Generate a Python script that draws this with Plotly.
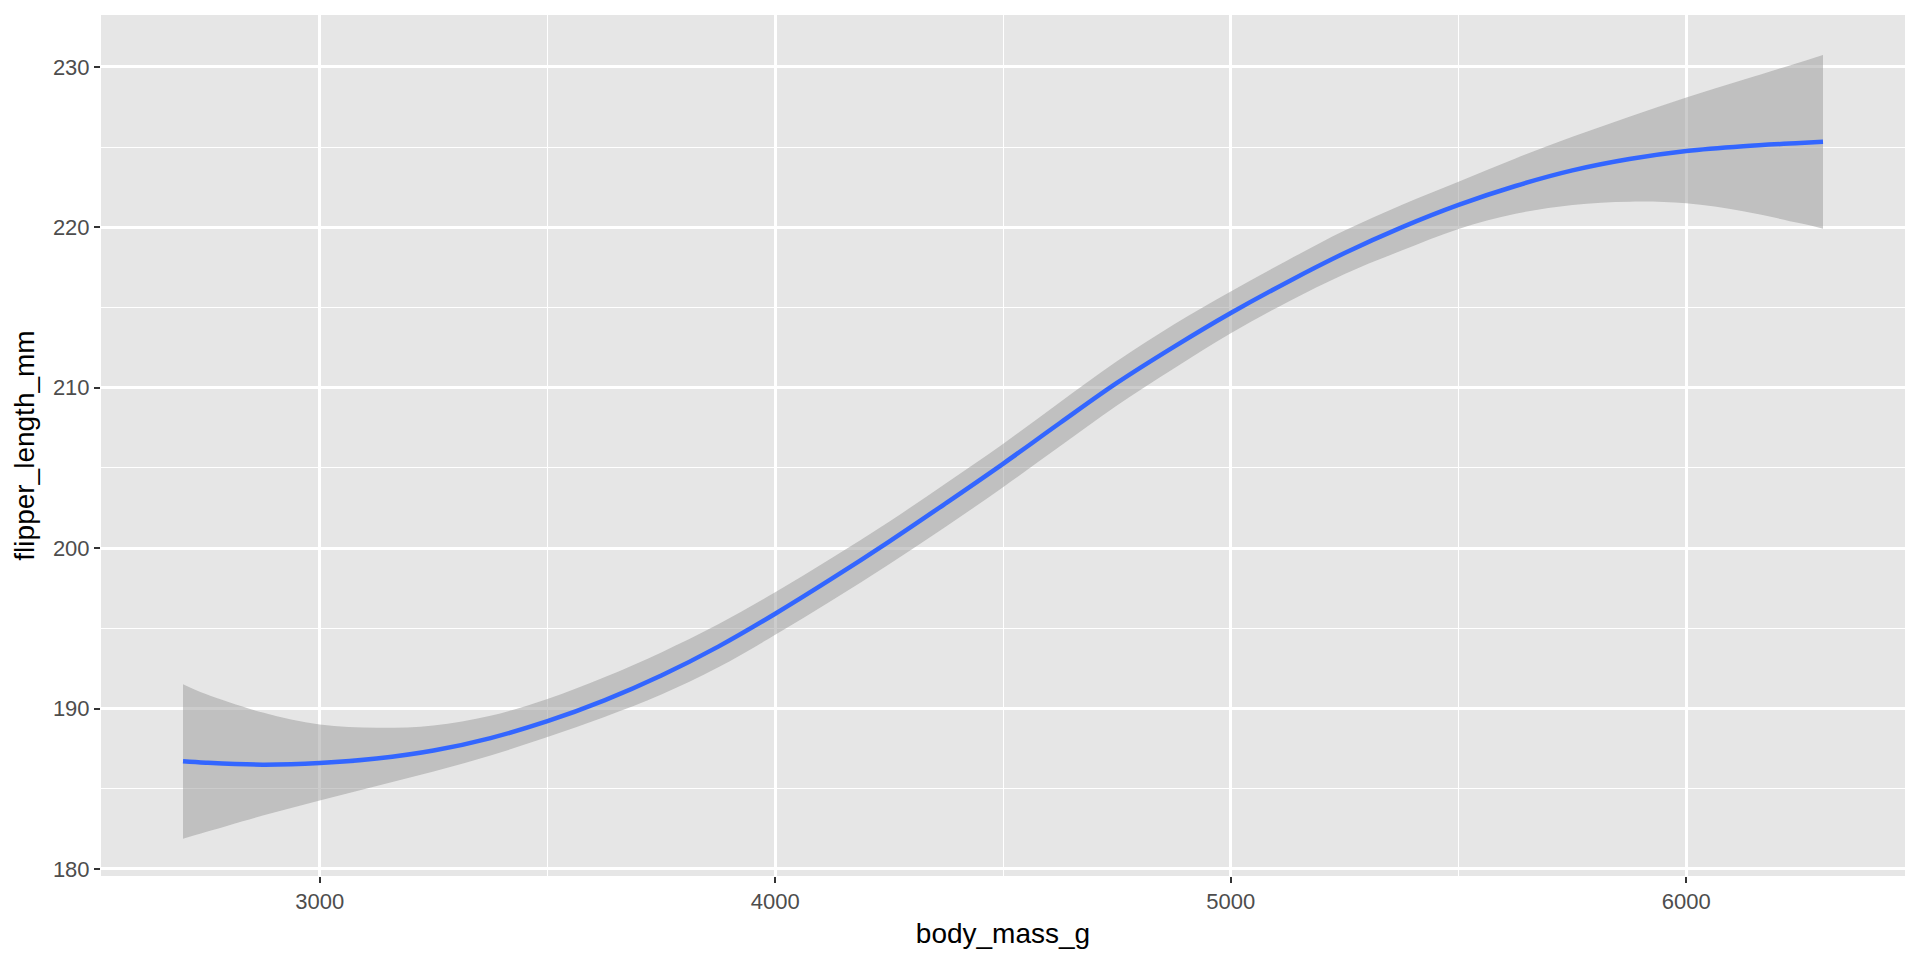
import plotly.graph_objects as go

BLUE = "#3366FF"
PANEL = "#E6E6E6"
BAND = "rgba(153,153,153,0.5)"
TICK_INK = "#4D4D4D"
FONT = "Liberation Sans, Arial, sans-serif"

# loess fit of flipper_length_mm on body_mass_g
body_mass_g = [2700, 2750, 2875, 3000, 3125, 3250, 3375, 3500, 3625, 3750, 3875,
               4000, 4125, 4250, 4375, 4500, 4625, 4750, 4875, 5000, 5125, 5250,
               5375, 5500, 5625, 5750, 5875, 6000, 6125, 6250, 6300]
fit = [186.71, 186.62, 186.5, 186.6, 186.88, 187.38, 188.16, 189.21, 190.51, 192.06, 193.86,
       195.91, 198.11, 200.41, 202.81, 205.26, 207.8, 210.3, 212.55, 214.66, 216.6, 218.4,
       220.0, 221.4, 222.58, 223.55, 224.26, 224.76, 225.06, 225.26, 225.33]
upper = [191.52, 190.9, 189.75, 189.0, 188.8, 188.95, 189.55, 190.6, 191.95, 193.5, 195.25,
         197.25, 199.4, 201.65, 204.05, 206.5, 209.1, 211.65, 213.95, 216.0, 217.95, 219.8,
         221.4, 222.85, 224.3, 225.65, 226.9, 228.1, 229.2, 230.3, 230.75]
lower = [181.88, 182.3, 183.33, 184.27, 185.17, 186.07, 187.07, 188.22, 189.47, 190.87, 192.57,
         194.6, 196.75, 199.0, 201.35, 203.8, 206.35, 208.9, 211.2, 213.4, 215.35, 217.1,
         218.55, 219.9, 220.85, 221.4, 221.6, 221.5, 221.0, 220.25, 219.92]

x_ticks = [3000, 4000, 5000, 6000]
y_ticks = [180, 190, 200, 210, 220, 230]

fig = go.Figure()
fig.add_trace(go.Scatter(x=body_mass_g, y=upper, mode="lines", line=dict(width=0, shape="spline"),
                         hoverinfo="skip", showlegend=False))
fig.add_trace(go.Scatter(x=body_mass_g, y=lower, mode="lines", line=dict(width=0, shape="spline"),
                         fill="tonexty", fillcolor=BAND, hoverinfo="skip", showlegend=False))
fig.add_trace(go.Scatter(x=body_mass_g, y=fit, mode="lines",
                         line=dict(color=BLUE, width=4.5, shape="spline"), showlegend=False))

axis_common = dict(
    showgrid=True, gridcolor="white", gridwidth=2.6, zeroline=False, showline=False,
    ticks="outside", ticklen=6, tickwidth=2, tickcolor="#333333",
    tickfont=dict(family=FONT, size=22, color=TICK_INK),
    title_font=dict(family=FONT, size=28, color="black"),
)
fig.update_xaxes(**axis_common, range=[2520, 6480], tickvals=x_ticks,
                 minor=dict(dtick=500, tick0=0, showgrid=True, gridcolor="white", gridwidth=1.3),
                 title_text="body_mass_g", title_standoff=9)
fig.update_yaxes(**axis_common, range=[179.56, 233.24], tickvals=y_ticks,
                 minor=dict(dtick=5, tick0=0, showgrid=True, gridcolor="white", gridwidth=1.3),
                 title_text="flipper_length_mm", title_standoff=10)

# page body has an 8px margin, so the figure is sized to fit inside the window
fig.update_layout(
    width=1904, height=944,
    margin=dict(l=93, r=7, t=7, b=76),
    paper_bgcolor="white", plot_bgcolor=PANEL,
    font=dict(family=FONT),
)

fig.write_html("out.html")
